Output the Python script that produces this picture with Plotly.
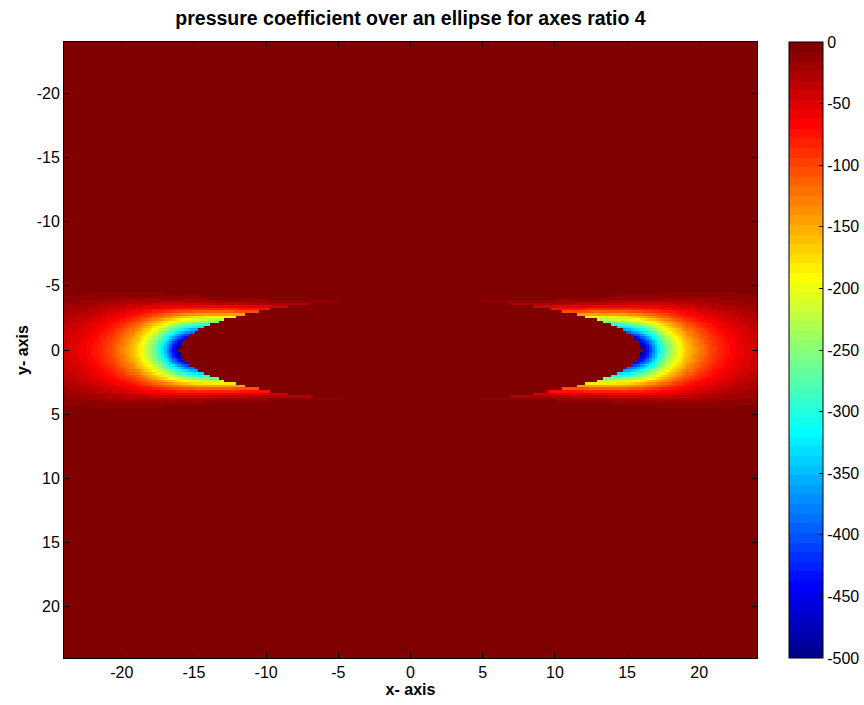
import numpy as np
import plotly.graph_objects as go

# ellipse geometry (axes ratio 4)
semi_major = 16.0
semi_minor = 4.0
cp_min, cp_max = -500.0, 0.0

# grid
grid_x = np.linspace(-24.0, 24.0, 241)
grid_y = np.linspace(-24.0, 24.0, 241)

x_ticks = [-20, -15, -10, -5, 0, 5, 10, 15, 20]
y_ticks = [-20, -15, -10, -5, 0, 5, 10, 15, 20]
cbar_ticks = [0, -50, -100, -150, -200, -250, -300, -350, -400, -450, -500]

# elliptic coordinates about the foci
X, Y = np.meshgrid(grid_x, grid_y)
c = np.sqrt(semi_major**2 - semi_minor**2)
d1 = np.hypot(X - c, Y)
d2 = np.hypot(X + c, Y)
mu = np.arccosh(np.maximum((d1 + d2) / (2 * c), 1.0))
mu0 = np.arctanh(semi_minor / semi_major)
m = np.maximum(mu - mu0, 0.0)

# suction peak at the tips, decaying outward and across the band
radial = np.exp(-3.6 * m**1.35)
widen = 1 + 0.55 * m
ay = np.abs(Y)
lateral = np.exp(-(ay / (2.9 * widen)) ** 2 - (ay / (3.36 * widen)) ** 6)
cp = cp_min * radial * lateral
cp[mu < mu0] = 0.0
cp = np.clip(cp, cp_min, cp_max)


# 64-step jet colour map
def jet64():
    cols = []
    for k in range(1, 65):
        t = k / 64
        r = np.clip(1.5 - abs(4 * t - 3), 0, 1)
        g = np.clip(1.5 - abs(4 * t - 2), 0, 1)
        b = np.clip(1.5 - abs(4 * t - 1), 0, 1)
        cols.append(f"rgb({int(round(r*255))},{int(round(g*255))},{int(round(b*255))})")
    scale = []
    for k, col in enumerate(cols):
        scale.append([k / 64, col])
        scale.append([(k + 1) / 64, col])
    return scale


font_family = "Liberation Sans, Arial"
tick_font = dict(family=font_family, size=16, color="black")

fig = go.Figure(
    go.Heatmap(
        x=grid_x,
        y=grid_y,
        z=cp,
        zmin=cp_min,
        zmax=cp_max,
        colorscale=jet64(),
        zsmooth=False,
        colorbar=dict(
            x=1.046,
            xanchor="left",
            y=0,
            yanchor="bottom",
            len=1.0,
            lenmode="fraction",
            thickness=34,
            thicknessmode="pixels",
            outlinewidth=1,
            outlinecolor="black",
            tickvals=cbar_ticks,
            ticktext=[str(v) for v in cbar_ticks],
            ticks="inside",
            ticklen=4,
            tickcolor="black",
            tickfont=tick_font,
            ypad=0,
            xpad=0,
        ),
    )
)

fig.update_layout(
    width=864,
    height=705,
    margin=dict(l=64, r=107, t=42, b=47, autoexpand=False),
    paper_bgcolor="white",
    plot_bgcolor="white",
    title=dict(
        text="<b>pressure coefficient over an ellipse for axes ratio 4</b>",
        x=(64 + 757) / 2 / 864,
        xanchor="center",
        y=1 - 18 / 705,
        yanchor="middle",
        font=dict(family=font_family, size=19.5, color="black"),
    ),
    xaxis=dict(
        range=[-24, 24],
        tickvals=x_ticks,
        ticktext=[str(v) for v in x_ticks],
        ticks="inside",
        ticklen=5,
        tickcolor="black",
        showline=True,
        linecolor="black",
        linewidth=1,
        mirror="ticks",
        showgrid=False,
        zeroline=False,
        tickfont=tick_font,
        title=dict(text="<b>x- axis</b>", font=tick_font, standoff=2),
    ),
    yaxis=dict(
        range=[24, -24],
        tickvals=y_ticks,
        ticktext=[str(v) for v in y_ticks],
        ticks="inside",
        ticklen=5,
        tickcolor="black",
        showline=True,
        linecolor="black",
        linewidth=1,
        mirror="ticks",
        showgrid=False,
        zeroline=False,
        tickfont=tick_font,
        title=dict(text="<b>y- axis</b>", font=tick_font, standoff=4),
    ),
)

fig.write_html("out.html")
